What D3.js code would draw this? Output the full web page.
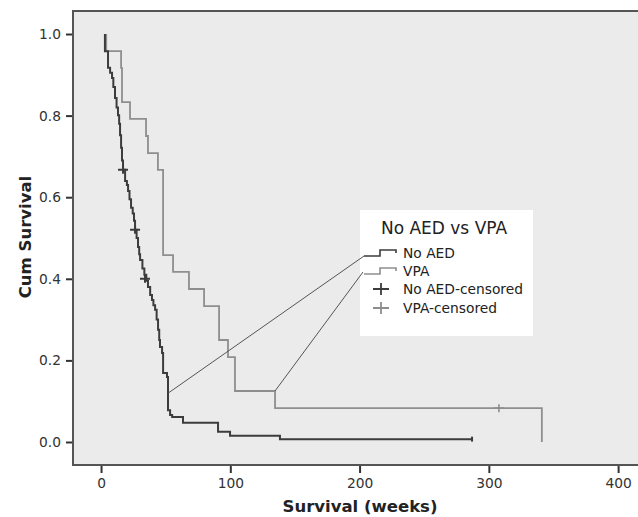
<!DOCTYPE html>
<html>
<head>
<meta charset="utf-8">
<script src="https://cdn.jsdelivr.net/npm/d3@7"></script>
<style>
  body { margin: 0; background: #fff; }
  svg { display: block; font-family: "DejaVu Sans", sans-serif; }
</style>
</head>
<body>
<svg id="chart" width="638" height="517"></svg>
<script>
// Kaplan-Meier steps: at time t (weeks) survival drops to s
const noAedTime = [3, 5.4, 7, 8.5, 9.5, 10.8, 12, 13.1, 14, 14.7, 15.5, 16.2, 17, 18.6, 20, 20.9, 22, 23.2, 24.5, 25.5, 26.3, 27.5, 28.6, 29.5, 30.2, 32, 33.5, 35, 36.3, 38, 39.4, 40.5, 41.8, 43, 44.1, 45, 45.6, 47.2, 48, 51, 51.8, 53.4, 55, 63.4, 90.5, 99.8, 138.4]
const noAedSurv = [0.958, 0.917, 0.905, 0.892, 0.87, 0.843, 0.82, 0.801, 0.78, 0.752, 0.721, 0.69, 0.667, 0.64, 0.63, 0.615, 0.595, 0.574, 0.56, 0.542, 0.52, 0.5, 0.478, 0.46, 0.446, 0.425, 0.41, 0.395, 0.38, 0.36, 0.348, 0.335, 0.324, 0.3, 0.275, 0.25, 0.233, 0.218, 0.169, 0.159, 0.078, 0.066, 0.061, 0.047, 0.025, 0.015, 0.007]
const noAedStart = 3, noAedEnd = 287
const noAedCensTime = [17, 26.3, 34]
const noAedCensSurv = [0.667, 0.52, 0.40]

const vpaTime = [4, 15.5, 16.2, 22.4, 34.8, 36.3, 44, 48, 55.7, 68, 79.7, 91.3, 98.2, 103.6, 134.6, 341]
const vpaSurv = [0.958, 0.917, 0.833, 0.792, 0.75, 0.708, 0.667, 0.458, 0.417, 0.375, 0.333, 0.25, 0.208, 0.125, 0.083, 0]
const vpaStart = 4
const vpaCensTime = [307.8]
const vpaCensSurv = [0.083]

const xTicks = [0, 100, 200, 300, 400]
const yTicks = [0, 0.2, 0.4, 0.6, 0.8, 1.0]
const legendTitle = "No AED vs VPA"
const legendLabels = ["No AED", "VPA", "No AED-censored", "VPA-censored"]

const darkCol = "#3c3c3c", lightCol = "#8e8e8e"

const svg = d3.select("#chart"),
    pL = 73, pR = 645, pT = 11, pB = 465

const x = d3.scaleLinear().domain([-21.7, 420.8]).range([pL, pR]),
    y = d3.scaleLinear().domain([-0.0564, 1.0564]).range([pB, pT])

svg.append("rect")
    .attr("x", pL).attr("y", pT)
    .attr("width", pR - pL).attr("height", pB - pT)
    .attr("fill", "#ebebeb")

// axes
const yAxis = svg.append("g")
    .attr("transform", "translate(" + pL + ",0)")
    .call(d3.axisLeft(y).tickValues(yTicks).tickFormat(d3.format(".1f")).tickSize(7).tickPadding(5))
const xAxis = svg.append("g")
    .attr("transform", "translate(0," + pB + ")")
    .call(d3.axisBottom(x).tickValues(xTicks).tickSize(8).tickPadding(5))

;[yAxis, xAxis].forEach(g => {
  g.select(".domain").remove()
  g.selectAll(".tick line").attr("stroke", "#333").attr("stroke-width", 2)
  g.selectAll(".tick text").attr("fill", "#333").style("font-size", "13.8px")
    .style("font-family", "'DejaVu Sans', sans-serif")
})

// frame
svg.append("path")
    .attr("d", "M" + pR + "," + pT + "H" + pL + "V" + pB + "H" + pR)
    .attr("fill", "none").attr("stroke", "#555").attr("stroke-width", 2)

// titles
svg.append("text")
    .attr("x", 360).attr("y", 512)
    .attr("text-anchor", "middle")
    .style("font-weight", "bold").style("font-size", "16.5px").attr("fill", "#222")
    .text("Survival (weeks)")
svg.append("text")
    .attr("transform", "translate(31,237) rotate(-90)")
    .attr("text-anchor", "middle")
    .style("font-weight", "bold").style("font-size", "16.5px").attr("fill", "#222")
    .text("Cum Survival")

// step curves
function stepPath(start, times, survs, end) {
  const p = d3.path()
  p.moveTo(x(start), y(1))
  times.forEach((t, i) => {
    p.lineTo(x(t), y(i ? survs[i - 1] : 1))
    p.lineTo(x(t), y(survs[i]))
  })
  if (end != null) p.lineTo(x(end), y(survs[survs.length - 1]))
  return p.toString()
}

svg.append("path")
    .attr("d", stepPath(vpaStart, vpaTime, vpaSurv, null))
    .attr("fill", "none").attr("stroke", lightCol).attr("stroke-width", 1.8)
svg.append("path")
    .attr("d", stepPath(noAedStart, noAedTime, noAedSurv, noAedEnd))
    .attr("fill", "none").attr("stroke", darkCol).attr("stroke-width", 2)

// end tick of No AED
svg.append("line")
    .attr("x1", x(noAedEnd)).attr("x2", x(noAedEnd))
    .attr("y1", y(noAedSurv[noAedSurv.length - 1]) - 2.5)
    .attr("y2", y(noAedSurv[noAedSurv.length - 1]) + 2.5)
    .attr("stroke", darkCol).attr("stroke-width", 2)

function crosses(times, survs, col, w) {
  const g = svg.append("g").attr("stroke", col).attr("stroke-width", w)
  times.forEach((t, i) => {
    const cx = x(t), cy = y(survs[i])
    g.append("path").attr("d", "M" + (cx - 5) + "," + cy + "H" + (cx + 5) + "M" + cx + "," + (cy - 4) + "V" + (cy + 4))
  })
}
crosses(noAedCensTime, noAedCensSurv, darkCol, 2)
crosses(vpaCensTime, vpaCensSurv, lightCol, 1.6)

// legend
const lg = svg.append("g").attr("transform", "translate(360,210)")
lg.append("rect").attr("width", 173).attr("height", 126).attr("fill", "#fff")
lg.append("text").attr("x", 84).attr("y", 24).attr("text-anchor", "middle")
    .style("font-size", "17px").attr("fill", "#222").text(legendTitle)

const rowY = [48, 66, 84, 103]
legendLabels.forEach((lab, i) => {
  lg.append("text").attr("x", 43).attr("y", rowY[i]).style("font-size", "13.8px")
      .attr("fill", "#222").text(lab)
})
;[darkCol, lightCol].forEach((c, i) => {
  const b = rowY[i] - 2
  lg.append("path").attr("d", "M4," + b + "H20V" + (b - 6) + "H36V" + (b - 3))
      .attr("fill", "none").attr("stroke", c).attr("stroke-width", 1.6)
})
;[darkCol, lightCol].forEach((c, i) => {
  const cy = rowY[i + 2] - 5
  lg.append("path").attr("d", "M13," + cy + "H29M21," + (cy - 6) + "V" + (cy + 6))
      .attr("stroke", c).attr("stroke-width", 1.8)
})

// leader lines from curves to legend
const leaders = [
  [x(52), y(0.12), 364, 256],
  [x(134.6), y(0.125), 363, 272]
]
leaders.forEach(d => {
  svg.append("line")
      .attr("x1", d[0]).attr("y1", d[1]).attr("x2", d[2]).attr("y2", d[3])
      .attr("stroke", "#555").attr("stroke-width", 1)
})
</script>
</body>
</html>
